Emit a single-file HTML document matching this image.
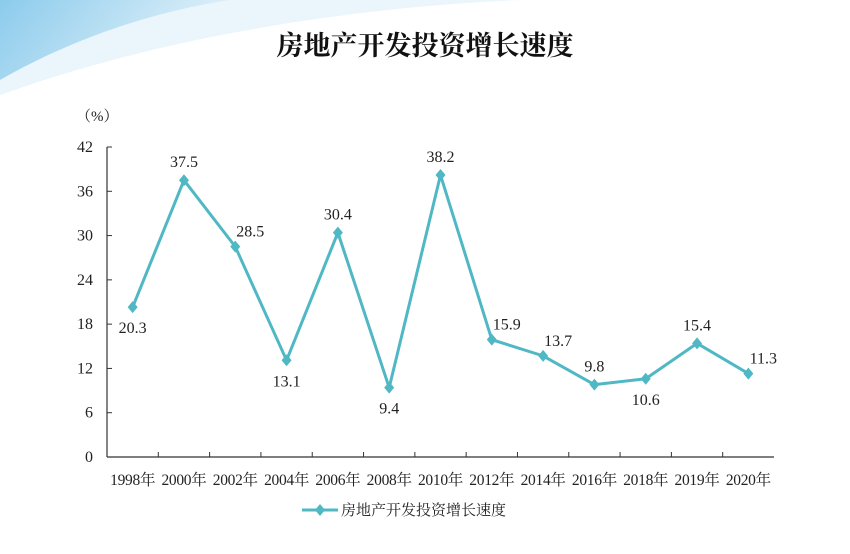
<!DOCTYPE html>
<html><head><meta charset="utf-8"><style>
body{margin:0;background:#fff;width:850px;height:554px;overflow:hidden;font-family:"Liberation Serif","Noto Serif CJK SC",serif;}
svg{display:block}
</style></head><body>
<svg id="c" width="850" height="554" xmlns="http://www.w3.org/2000/svg">
<defs>
<linearGradient id="sw" x1="0" y1="0" x2="1" y2="0.3">
<stop offset="0" stop-color="#8ccbec"/><stop offset="1" stop-color="#e3f2fa"/></linearGradient>
</defs>
<path d="M0,0 L520,0 C380,6 180,30 0,95 Z" fill="#eaf6fb"/>
<path d="M0,0 L230,0 C150,12 70,40 0,80 Z" fill="url(#sw)"/>
<text x="425" y="55" text-anchor="middle" font-size="27" font-weight="bold" fill="#111" font-family="'Noto Serif CJK SC',serif">房地产开发投资增长速度</text>
<text x="76" y="121" font-size="15" fill="#222">（%）</text>
<g id="plot"></g>
</svg>
<script>
const categories=["1998年","2000年","2002年","2004年","2006年","2008年","2010年","2012年","2014年","2016年","2018年","2019年","2020年"];
const values=[20.3,37.5,28.5,13.1,30.4,9.4,38.2,15.9,13.7,9.8,10.6,15.4,11.3];
const yTicks=[0,6,12,18,24,30,36,42];
const labelAbove=[false,true,true,false,true,false,true,true,true,true,false,true,true];
const labelRight=[false,false,true,false,false,false,false,true,true,false,false,false,true];
const X0=107,X1=774,Y0=457,Y1=147,YMAX=42;
const bw=(X1-X0)/categories.length;
const xs=i=>X0+bw*(i+0.5);
const ys=v=>Y0-(v/YMAX)*(Y0-Y1);
const NS="http://www.w3.org/2000/svg";
const g=document.getElementById('plot');
function mk(t,a){const e=document.createElementNS(NS,t);for(const k in a)e.setAttribute(k,a[k]);g.appendChild(e);return e;}
let e=mk('line',{x1:X0,y1:Y1,x2:X0,y2:Y0,stroke:'#333','stroke-width':1.2});


e=mk('line',{x1:X0,y1:Y0,x2:X1,y2:Y0,stroke:'#333','stroke-width':1.2});


yTicks.forEach(t=>{
 const tk=mk('line',{x1:X0,y1:ys(t),x2:X0+5,y2:ys(t),stroke:'#333'});
 
 
 const l=mk('text',{x:X0-14,y:ys(t)+5,'text-anchor':'end','font-size':16,fill:'#222'});
 l.textContent=t;
 
 
});
categories.forEach((c,i)=>{
 if(i>0){const tk=mk('line',{x1:X0+bw*i,y1:Y0,x2:X0+bw*i,y2:Y0-5,stroke:'#333'});
 
 }
 const l=mk('text',{x:xs(i),y:485,'text-anchor':'middle','font-size':15.5,fill:'#222','letter-spacing':'-0.3'});
 l.textContent=c;
 
 
});
const pts=values.map((v,i)=>xs(i)+','+ys(v)).join(' ');
e=mk('polyline',{points:pts,fill:'none',stroke:'#4fb8c4','stroke-width':3,'stroke-linejoin':'round'});


values.forEach((v,i)=>{
 const x=xs(i),y=ys(v);
 const m=mk('path',{d:`M${x},${y-6}L${x+5},${y}L${x},${y+6}L${x-5},${y}Z`,fill:'#4fb8c4'});
 
 
 const lx=labelRight[i]?x+15:x;
 const ly=labelAbove[i]?(labelRight[i]?y-10:y-13):y+26;
 const l=mk('text',{x:lx,y:ly,'text-anchor':'middle','font-size':16,fill:'#222'});
 l.textContent=v.toFixed(1);
 
 
});
e=mk('line',{x1:302,y1:510,x2:338,y2:510,stroke:'#4fb8c4','stroke-width':3});


e=mk('path',{d:'M320,504L325,510L320,516L315,510Z',fill:'#4fb8c4'});


e=mk('text',{x:341,y:515,'font-size':15,fill:'#222','font-family':"'Noto Serif CJK SC',serif"});
e.textContent='房地产开发投资增长速度';


</script>
</body></html>
